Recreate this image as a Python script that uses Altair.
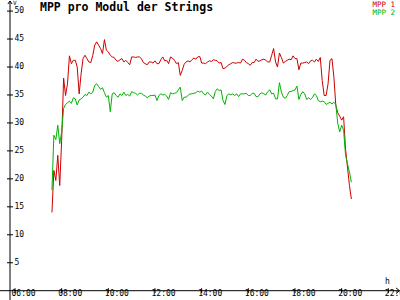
import altair as alt
import pandas as pd

# ---------------- data ----------------
series_names = ["MPP 1", "MPP 2"]
series_colors = ["#cc0000", "#00b400"]
chart_title = "MPP pro Modul der Strings"
y_unit = "V"
x_unit = "h"

start_hour = 7
start_minute = 35
step_minutes = 5

mpp1 = [
    14.0, 21.5, 19.7, 24.2, 18.8, 26.9, 38.0, 34.9, 37.0, 42.0,
    40.6, 41.2, 41.2, 40.0, 35.2, 38.8, 41.5, 42.1, 41.5, 40.9,
    40.8, 42.1, 43.9, 44.5, 43.9, 43.3, 42.4, 44.9, 43.0, 42.7,
    42.1, 41.8, 41.7, 41.2, 41.0, 41.3,
    41.5, 40.9, 41.2, 40.8, 40.4, 41.8, 41.8, 41.7, 41.8, 41.8,
    41.5, 40.8, 40.6, 40.4, 40.9, 40.9, 40.7, 41.1, 40.6, 40.6,
    41.3, 41.8, 41.1, 41.2, 40.6, 41.8, 41.6, 41.2, 40.6, 40.8,
    38.5, 39.4, 40.5, 40.9, 41.1, 40.9, 41.3, 41.6,
    41.4, 41.8, 41.9, 40.7, 40.7, 40.6, 40.9, 41.1, 41.0, 41.3,
    41.2, 41.1, 40.7, 40.8, 39.7, 39.8, 40.1, 40.4, 40.6, 40.8,
    40.7, 40.7, 40.8, 40.7, 41.4, 41.2, 40.8, 40.6, 40.3, 40.8,
    40.8, 41.4, 41.0, 41.1, 41.3, 41.4, 41.2, 40.9, 40.9,
    42.1, 43.3, 40.9, 40.0, 42.5, 41.7, 40.7, 41.0, 41.2, 41.4,
    41.3, 42.0, 41.5, 41.5, 39.5, 40.7, 40.7, 40.8, 40.9, 40.6,
    41.1, 41.2, 40.9, 41.4, 41.0, 41.7, 37.6, 34.9, 34.9, 37.0,
    41.2, 41.5, 38.2, 33.1, 31.8, 31.2, 30.5, 31.1, 25.3, 22.1,
    18.8, 16.4,
]

mpp2 = [
    18.0, 27.8, 27.0, 29.6, 26.3, 28.4, 32.6, 33.3, 33.6, 33.9,
    33.5, 34.5, 34.3, 33.2, 34.1, 34.3, 34.6, 35.1, 34.9, 35.5,
    35.2, 35.5, 36.7, 37.0, 36.5, 36.0, 36.3, 35.4, 34.6, 34.9,
    32.0, 35.2, 35.4, 34.9, 34.6, 35.2,
    34.9, 35.5, 34.9, 35.1, 34.8, 35.6, 35.4, 35.3, 35.0, 35.3,
    35.3, 35.0, 34.8, 34.5, 34.8, 34.9, 34.9, 35.0, 34.0, 34.9,
    35.2, 35.0, 35.1, 34.8, 34.2, 35.4, 35.2, 35.3, 35.4, 35.9,
    36.4, 34.0, 34.6, 34.6, 34.9, 35.2, 35.2, 35.3,
    35.4, 35.7, 35.5, 35.7, 35.2, 35.0, 35.5, 35.1, 34.8, 34.3,
    35.6, 36.1, 35.8, 35.9, 34.0, 33.3, 34.9, 35.2, 35.0, 35.2,
    34.9, 35.2, 34.7, 35.2, 35.2, 35.2, 35.3, 34.9, 34.9, 35.3,
    35.3, 34.7, 34.7, 35.2, 35.4, 35.2, 35.0, 35.6, 35.9,
    35.2, 35.3, 34.3, 34.3, 37.2, 35.5, 34.6, 34.4, 34.9, 35.6,
    35.6, 35.8, 35.9, 36.6, 34.2, 35.1, 35.6, 35.2, 34.2, 34.5,
    34.2, 34.5, 35.2, 34.9, 34.0, 33.8, 33.9, 33.8, 33.3, 33.5,
    33.7, 33.4, 33.7, 33.3, 29.9, 28.4, 29.6, 28.7, 24.2, 22.7,
    21.2, 19.4,
]

y_tick_values = [5, 10, 15, 20, 25, 30, 35, 40, 45, 50]
x_tick_labels = ["06:00", "08:00", "10:00", "12:00", "14:00",
                 "16:00", "18:00", "20:00", "22:00"]

# ---------------- geometry of the scales ----------------
W, H = 400, 300
PX_PER_H = 23.333          # pixels per hour
PX_PER_V = 5.5925          # pixels per volt
X_ORIGIN_PX = 15.0         # where 06:00 sits
Y_ZERO_PX = 290.7          # where 0 V sits

XMIN = 6 - X_ORIGIN_PX / PX_PER_H
XMAX = XMIN + W / PX_PER_H
YMAX = Y_ZERO_PX / PX_PER_V
YMIN = YMAX - H / PX_PER_V

YAX_H = XMIN + 10 / PX_PER_H          # y axis position (hours)
XAX_END = XMIN + 399.5 / PX_PER_H     # x axis end
YAX_TOP = YMAX - 1 / PX_PER_V         # y axis top

x_scale = alt.Scale(domain=[XMIN, XMAX], nice=False, zero=False)
y_scale = alt.Scale(domain=[YMIN, YMAX], nice=False, zero=False)
FONT = "DejaVu Sans Mono"

# ---------------- tables ----------------
start = start_hour + start_minute / 60
rows = []
for name, vals in zip(series_names, [mpp1, mpp2]):
    for i, v in enumerate(vals):
        rows.append({"h": start + i * step_minutes / 60, "v": v, "series": name})
df = pd.DataFrame(rows)

x_tick_hours = [int(s[:2]) for s in x_tick_labels]
xt_df = pd.DataFrame({"h": x_tick_hours, "lab": x_tick_labels,
                      "y": [-2.5 / PX_PER_V] * len(x_tick_hours),
                      "y2": [2.5 / PX_PER_V] * len(x_tick_hours)})
yt_df = pd.DataFrame({"v": y_tick_values, "lab": [str(v) for v in y_tick_values],
                      "x": [YAX_H - 3 / PX_PER_H] * len(y_tick_values),
                      "x2": [YAX_H + 3 / PX_PER_H] * len(y_tick_values),
                      "xa": [YAX_H] * len(y_tick_values)})
axes_df = pd.DataFrame({"x": [XMIN, YAX_H], "x2": [XAX_END, YAX_H],
                        "y": [0, YMIN], "y2": [0, YAX_TOP]})

X = lambda f: alt.X(f, scale=x_scale, axis=None)
Y = lambda f: alt.Y(f, scale=y_scale, axis=None)

lines = alt.Chart(df).mark_line(strokeWidth=1, interpolate="linear").encode(
    x=X("h:Q"), y=Y("v:Q"),
    color=alt.Color("series:N", scale=alt.Scale(domain=series_names, range=series_colors), legend=None),
)

axes = alt.Chart(axes_df).mark_rule(color="black", strokeWidth=1).encode(
    x=X("x:Q"), x2="x2:Q", y=Y("y:Q"), y2="y2:Q")

xticks = alt.Chart(xt_df).mark_rule(color="black", strokeWidth=1).encode(
    x=X("h:Q"), y=Y("y:Q"), y2="y2:Q")
xlabels = alt.Chart(xt_df).mark_text(font=FONT, fontSize=8, align="left",
                                     baseline="alphabetic", dx=-3.5, dy=8, color="black").encode(
    x=X("h:Q"), y=alt.Y("y2:Q", scale=y_scale, axis=None), text="lab:N")

yticks = alt.Chart(yt_df).mark_rule(color="black", strokeWidth=1).encode(
    x=X("x:Q"), x2="x2:Q", y=Y("v:Q"))
ylabels = alt.Chart(yt_df).mark_text(font=FONT, fontSize=8, align="left",
                                     baseline="middle", dx=4.5, color="black").encode(
    x=X("xa:Q"), y=Y("v:Q"), text="lab:N")

arrow_df = pd.DataFrame({"x": [YAX_H], "y": [YAX_TOP]})
yarrow = alt.Chart(arrow_df).mark_point(shape="M-0.7,1L0,0L0.7,1", size=36, filled=False,
                                        color="black", strokeWidth=1, opacity=1).encode(
    x=X("x:Q"), y=Y("y:Q"))
xarrow_df = pd.DataFrame({"x": [XAX_END], "y": [0]})
xarrow = alt.Chart(xarrow_df).mark_point(shape="M-1,-0.8L0,0L-1,0.8", size=49, filled=False,
                                         color="black", strokeWidth=1, opacity=1).encode(
    x=X("x:Q"), y=Y("y:Q"))

one = pd.DataFrame({"t": [chart_title]})
title = alt.Chart(one).mark_text(font=FONT, fontSize=11.5, fontWeight="bold", align="left",
                                 baseline="alphabetic", color="black").encode(
    text="t:N", x=alt.value(40), y=alt.value(10.5))

vlab = alt.Chart(pd.DataFrame({"t": [y_unit]})).mark_text(
    font=FONT, fontSize=6, align="left", baseline="alphabetic", color="black").encode(
    text="t:N", x=alt.value(13), y=alt.value(5))
hlab = alt.Chart(pd.DataFrame({"t": [x_unit]})).mark_text(
    font=FONT, fontSize=8, align="left", baseline="alphabetic", color="black").encode(
    text="t:N", x=alt.value(385), y=alt.value(284))

leg1 = alt.Chart(pd.DataFrame({"t": [series_names[0]]})).mark_text(
    font=FONT, fontSize=7.5, align="right", baseline="alphabetic", color=series_colors[0]).encode(
    text="t:N", x=alt.value(395), y=alt.value(7))
leg2 = alt.Chart(pd.DataFrame({"t": [series_names[1]]})).mark_text(
    font=FONT, fontSize=7.5, align="right", baseline="alphabetic", color=series_colors[1]).encode(
    text="t:N", x=alt.value(395), y=alt.value(15))

chart = alt.layer(
    axes, xticks, yticks, xlabels, ylabels, yarrow, xarrow, lines,
    title, vlab, hlab, leg1, leg2,
).properties(
    width=W, height=H, padding=0, autosize=alt.AutoSizeParams(type="none"), background="white"
).configure_view(stroke=None)

chart.save("out.html", embed_options={"renderer": "svg", "actions": False})
